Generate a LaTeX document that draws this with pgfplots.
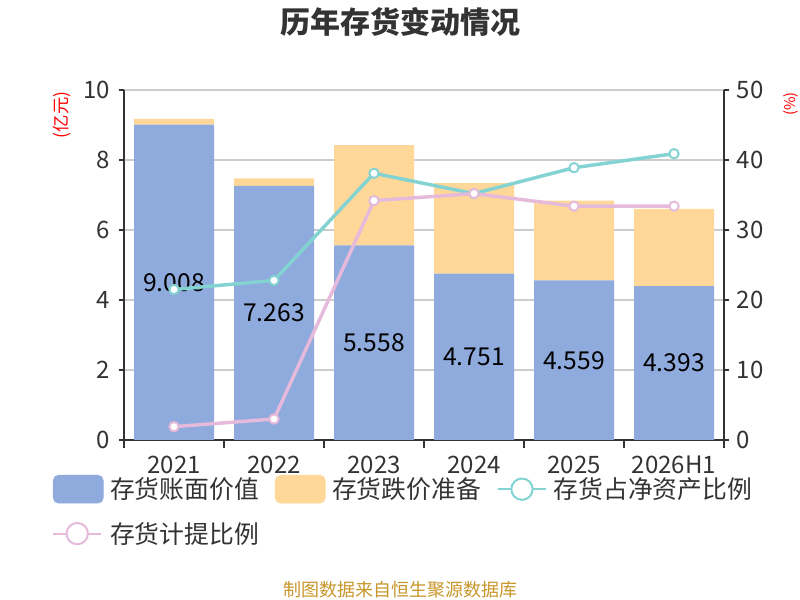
\documentclass[border=0pt]{standalone}
\usepackage{pgfplots}
\pgfplotsset{compat=1.18}
\usepackage{pgfplotstable}
\usepackage{fontspec}
\setmainfont{Noto Sans CJK SC}
\definecolor{barblue}{HTML}{8FAADC}
\definecolor{baryel}{HTML}{FFD899}
\definecolor{lcyan}{HTML}{83D3D3}
\definecolor{lpink}{HTML}{E6BADA}
\definecolor{txt}{HTML}{333333}
\definecolor{gridc}{HTML}{CCCCCC}
\definecolor{foot}{HTML}{C8962A}

\pgfplotstableread{
x bv rv cr pr
0 9.008 0.17 21.5 1.9
1 7.263 0.21 22.8 3.0
2 5.558 2.87 38.1 34.2
3 4.751 2.59 35.2 35.2
4 4.559 2.28 38.9 33.4
5 4.393 2.21 40.9 33.4
}\datatable

\begin{document}
\begin{tikzpicture}
\pgfplotsset{
  base/.style={scale only axis, width=450pt, height=262.5pt,
    at={(93pt,120pt)}, anchor=south west,
    xmin=-0.5, xmax=5.5, ymin=0, ymax=10,
    /pgf/number format/assume math mode=true,
    tick label style={font=\fontsize{18}{18}\selectfont, text=txt}},
}
\begin{axis}[base, ybar stacked, bar width=60pt,
  axis x line*=bottom, axis y line*=left,
  axis line style={txt, line width=1.5pt},
  xtick={0,...,5}, xticklabels={2021,2022,2023,2024,2025,2026H1},
  xticklabel style={yshift=-4.5pt},
  yticklabel style={xshift=-3pt},
  minor xtick={-0.5,0.5,...,5.5},
  every major x tick/.append style={draw=none},
  every minor x tick/.append style={txt, line width=1.5pt},
  minor tick length=6pt,
  tick align=outside,
  ytick={0,2,...,10},
  every major y tick/.append style={txt, line width=1.5pt},
  major tick length=4pt,
  ymajorgrids, y grid style={gridc, line width=1.1pt},
]
\addplot[fill=barblue, draw=none] table[x=x,y=bv]{\datatable};
\addplot[fill=baryel, draw=none] table[x=x,y=rv]{\datatable};
\end{axis}

\begin{axis}[base, hide axis]
\addplot[draw=none, mark=none, nodes near coords, point meta=explicit symbolic,
  every node near coord/.style={anchor=center, font=\fontsize{18.5}{18.5}\selectfont, text=black}]
  table[x=x, y expr=\thisrow{bv}/2, meta=bv]{\datatable};
\end{axis}

\begin{axis}[base, ymax=50,
  axis x line=none, axis y line*=right,
  axis line style={txt, line width=1.5pt},
  ytick={0,10,...,50}, tick align=outside, major tick length=4pt,
  yticklabel style={xshift=2pt},
  every major y tick/.append style={txt, line width=1.5pt},
  legend columns=3, legend cell align=left,
  legend style={at={(axis description cs:-0.1267,-0.0914)}, anchor=north west,
    draw=none, fill=none, font=\fontsize{18.6}{18.6}\selectfont, text=txt,
    row sep=12pt,
    /tikz/every even column/.append style={column sep=10pt},
    /tikz/every odd column/.append style={column sep=3pt}},
]
\addlegendimage{legend image code/.code={\fill[barblue, rounded corners=4pt] (0pt,-10.5pt) rectangle (37.5pt,10.5pt);}}
\addlegendentry{存货账面价值}
\addlegendimage{legend image code/.code={\fill[baryel, rounded corners=4pt] (0pt,-10.5pt) rectangle (37.5pt,10.5pt);}}
\addlegendentry{存货跌价准备}
\addlegendimage{legend image code/.code={\draw[lcyan, line width=1.5pt] (0pt,0pt)--(36pt,0pt); \draw[lcyan, line width=1.5pt, fill=white] (18pt,0pt) circle (8pt);}}
\addlegendentry{存货占净资产比例}
\addlegendimage{legend image code/.code={\draw[lpink, line width=1.5pt] (0pt,0pt)--(36pt,0pt); \draw[lpink, line width=1.5pt, fill=white] (18pt,0pt) circle (8pt);}}
\addlegendentry{存货计提比例}
\addplot[forget plot, lcyan, line width=2.6pt, mark=*, mark size=3.5pt,
  mark options={fill=white, draw=lcyan, line width=1.5pt}] table[x=x,y=cr]{\datatable};
\addplot[forget plot, lpink, line width=2.6pt, mark=*, mark size=3.5pt,
  mark options={fill=white, draw=lpink, line width=1.5pt}] table[x=x,y=pr]{\datatable};
\end{axis}

\node[font=\fontsize{22.5}{22.5}\selectfont\bfseries, text=txt] at (300pt,433.5pt) {历年存货变动情况};
\node[font=\fontsize{13.5}{13.5}\selectfont, text=foot] at (300pt,7.5pt) {制图数据来自恒生聚源数据库};
\node[rotate=90, text=red, font=\fontsize{13}{13}\selectfont] at (46.5pt,363.75pt) {(亿元)};
\node[rotate=90, text=red, font=\fontsize{11}{11}\selectfont, inner sep=1pt] at (593pt,372pt) {(\%)};
\pgfresetboundingbox
\path (0,0) rectangle (600pt,450pt);
\end{tikzpicture}
\end{document}
